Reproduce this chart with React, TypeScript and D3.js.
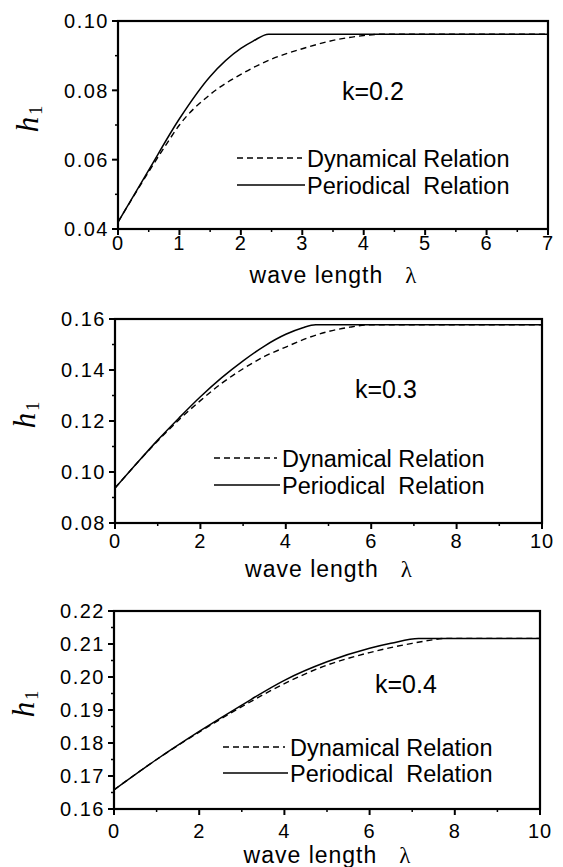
import React, { useEffect, useRef } from 'react';
import * as d3 from 'd3';

// k = 0.2
const lam1Solid = [0, 0.5, 1, 1.5, 2, 2.2, 2.45, 7];
const h1Solid = [0.042, 0.057, 0.0718, 0.084, 0.0921, 0.0942, 0.0962, 0.0962];
const lam1Dash = [0, 0.5, 0.8, 1, 1.5, 2, 2.5, 3, 3.5, 4, 4.3, 7];
const h1Dash = [0.042, 0.0565, 0.0648, 0.07, 0.0788, 0.0846, 0.089, 0.092, 0.0944, 0.0958, 0.0962, 0.0962];

// k = 0.3
const lam2Solid = [0, 0.5, 1, 1.5, 2, 2.5, 3, 3.5, 4, 4.4, 4.7, 10];
const h2Solid = [0.0937, 0.1032, 0.1125, 0.1212, 0.1295, 0.137, 0.1436, 0.1494, 0.154, 0.1566, 0.1577, 0.1577];
const lam2Dash = [0, 1, 1.5, 2, 2.5, 3, 3.5, 4, 4.5, 5, 5.5, 6, 10];
const h2Dash = [0.0937, 0.1122, 0.1205, 0.128, 0.1348, 0.1405, 0.1453, 0.149, 0.1525, 0.1551, 0.1568, 0.1577, 0.1577];

// k = 0.4
const lam3Solid = [0, 1, 2, 3, 4, 5, 6, 6.5, 7.15, 10];
const h3Solid = [0.1658, 0.175, 0.1835, 0.1915, 0.199, 0.2046, 0.2087, 0.2102, 0.2117, 0.2117];
const lam3Dash = [0, 1, 2, 3, 4, 5, 6, 7, 7.4, 7.8, 10];
const h3Dash = [0.1658, 0.175, 0.1833, 0.191, 0.198, 0.2036, 0.2074, 0.2102, 0.2111, 0.2117, 0.2117];

const panels = [
  {
    k: 'k=0.2', box: [118, 21, 548, 229], xDom: [0, 7], yDom: [0.04, 0.1],
    xTicks: [0, 1, 2, 3, 4, 5, 6, 7], xMinor: 0.5, yTicks: [0.04, 0.06, 0.08, 0.1], yMinor: 0.01,
    solid: [lam1Solid, h1Solid], dash: [lam1Dash, h1Dash],
    kPos: [342, 100], leg: [237, 307, 158, 185], tickOff: 21,
  },
  {
    k: 'k=0.3', box: [115, 319, 542, 523], xDom: [0, 10], yDom: [0.08, 0.16],
    xTicks: [0, 2, 4, 6, 8, 10], xMinor: 1, yTicks: [0.08, 0.1, 0.12, 0.14, 0.16], yMinor: 0.01,
    solid: [lam2Solid, h2Solid], dash: [lam2Dash, h2Dash],
    kPos: [355, 398], leg: [214, 282, 458, 485], tickOff: 25,
  },
  {
    k: 'k=0.4', box: [114, 611, 540, 809], xDom: [0, 10], yDom: [0.16, 0.22],
    xTicks: [0, 2, 4, 6, 8, 10], xMinor: 1, yTicks: [0.16, 0.17, 0.18, 0.19, 0.2, 0.21, 0.22], yMinor: 0.005,
    solid: [lam3Solid, h3Solid], dash: [lam3Dash, h3Dash],
    kPos: [375, 693], leg: [223, 290, 747, 773], tickOff: 29,
  },
];

const font = 'Liberation Sans, Arial, sans-serif';

const App = () => {
  const svgRef = useRef(null);

  useEffect(() => {
    const svg = d3.select(svgRef.current);
    svg.selectAll('*').remove();

    panels.forEach(p => {
      const [x0, y0, x1, y1] = p.box;
      const x = d3.scaleLinear().domain(p.xDom).range([x0, x1]);
      const y = d3.scaleLinear().domain(p.yDom).range([y1, y0]);
      const g = svg.append('g');

      // minor ticks
      const xm = d3.range(p.xDom[0], p.xDom[1] + 1e-9, p.xMinor).filter(v => !p.xTicks.some(t => Math.abs(t - v) < 1e-9));
      g.selectAll('.xm').data(xm).enter().append('line')
        .attr('x1', d => x(d)).attr('x2', d => x(d)).attr('y1', y1).attr('y2', y1 + 3)
        .attr('stroke', '#000').attr('stroke-width', 1.5);
      const ym = d3.range(p.yDom[0], p.yDom[1] + 1e-9, p.yMinor).filter(v => !p.yTicks.some(t => Math.abs(t - v) < 1e-9));
      g.selectAll('.ym').data(ym).enter().append('line')
        .attr('y1', d => y(d)).attr('y2', d => y(d)).attr('x1', x0).attr('x2', x0 - 3)
        .attr('stroke', '#000').attr('stroke-width', 1.5);

      // major ticks
      g.selectAll('.xt').data(p.xTicks).enter().append('line')
        .attr('x1', d => x(d)).attr('x2', d => x(d)).attr('y1', y1).attr('y2', y1 + 6)
        .attr('stroke', '#000').attr('stroke-width', 2);
      g.selectAll('.yt').data(p.yTicks).enter().append('line')
        .attr('y1', d => y(d)).attr('y2', d => y(d)).attr('x1', x0).attr('x2', x0 - 6)
        .attr('stroke', '#000').attr('stroke-width', 2);

      g.selectAll('.xl').data(p.xTicks).enter().append('text')
        .attr('x', d => x(d)).attr('y', y1 + p.tickOff)
        .attr('text-anchor', 'middle').attr('font-family', font).attr('font-size', 20)
        .attr('letter-spacing', 1)
        .text(d => d);
      g.selectAll('.yl').data(p.yTicks).enter().append('text')
        .attr('x', x0 - 9).attr('y', d => y(d)).attr('dy', '0.36em')
        .attr('text-anchor', 'end').attr('font-family', font).attr('font-size', 20)
        .attr('letter-spacing', 1.5)
        .text(d => d3.format('.2f')(d));

      // curves
      const line = d3.line().x(d => x(d[0])).y(d => y(d[1])).curve(d3.curveMonotoneX);
      const dashPts = p.dash[0].map((v, i) => [v, p.dash[1][i]]);
      const solidPts = p.solid[0].map((v, i) => [v, p.solid[1][i]]);
      g.append('path').attr('d', line(dashPts)).attr('fill', 'none')
        .attr('stroke', '#000').attr('stroke-width', 1.4).attr('stroke-dasharray', '6,4');
      g.append('path').attr('d', line(solidPts)).attr('fill', 'none')
        .attr('stroke', '#000').attr('stroke-width', 1.5);

      // frame
      g.append('rect').attr('x', x0).attr('y', y0).attr('width', x1 - x0).attr('height', y1 - y0)
        .attr('fill', 'none').attr('stroke', '#000').attr('stroke-width', 2.2);

      // k label
      g.append('text').attr('x', p.kPos[0]).attr('y', p.kPos[1])
        .attr('font-family', font).attr('font-size', 25).text(p.k);

      // legend
      const [lx0, tx, ly1, ly2] = p.leg;
      g.append('line').attr('x1', lx0).attr('x2', tx - 5).attr('y1', ly1).attr('y2', ly1)
        .attr('stroke', '#000').attr('stroke-width', 1.4).attr('stroke-dasharray', '6,4');
      g.append('line').attr('x1', lx0).attr('x2', tx - 2).attr('y1', ly2).attr('y2', ly2)
        .attr('stroke', '#000').attr('stroke-width', 1.5);
      g.append('text').attr('x', tx).attr('y', ly1 + 9)
        .attr('font-family', font).attr('font-size', 23.5).text('Dynamical Relation');
      g.append('text').attr('x', tx).attr('y', ly2 + 9).attr('xml:space', 'preserve')
        .style('white-space', 'pre')
        .attr('font-family', font).attr('font-size', 23.5).text('Periodical  Relation');

      // axis titles
      const xt = g.append('text').attr('x', (x0 + x1) / 2).attr('y', y1 + 54)
        .attr('text-anchor', 'middle').attr('font-family', font).attr('font-size', 23)
        .attr('letter-spacing', 1);
      xt.append('tspan').text('wave length');
      xt.append('tspan').attr('dx', 22).attr('font-family', 'Liberation Serif, serif').attr('letter-spacing', 0).text('λ');

      const cy = (y0 + y1) / 2 - 6;
      const yt = g.append('text').attr('transform', `translate(${x0 - 80},${cy}) rotate(-90)`)
        .attr('text-anchor', 'middle').attr('font-family', 'Liberation Serif, serif');
      yt.append('tspan').attr('font-size', 31).attr('font-style', 'italic').text('h');
      yt.append('tspan').attr('font-size', 18).attr('dy', 4).attr('dx', 2).text('1');
    });
  }, []);

  return (
    <svg ref={svgRef} width={563} height={867}
      style={{ position: 'absolute', left: 0, top: 0, background: '#fff' }} />
  );
};

export default App;
